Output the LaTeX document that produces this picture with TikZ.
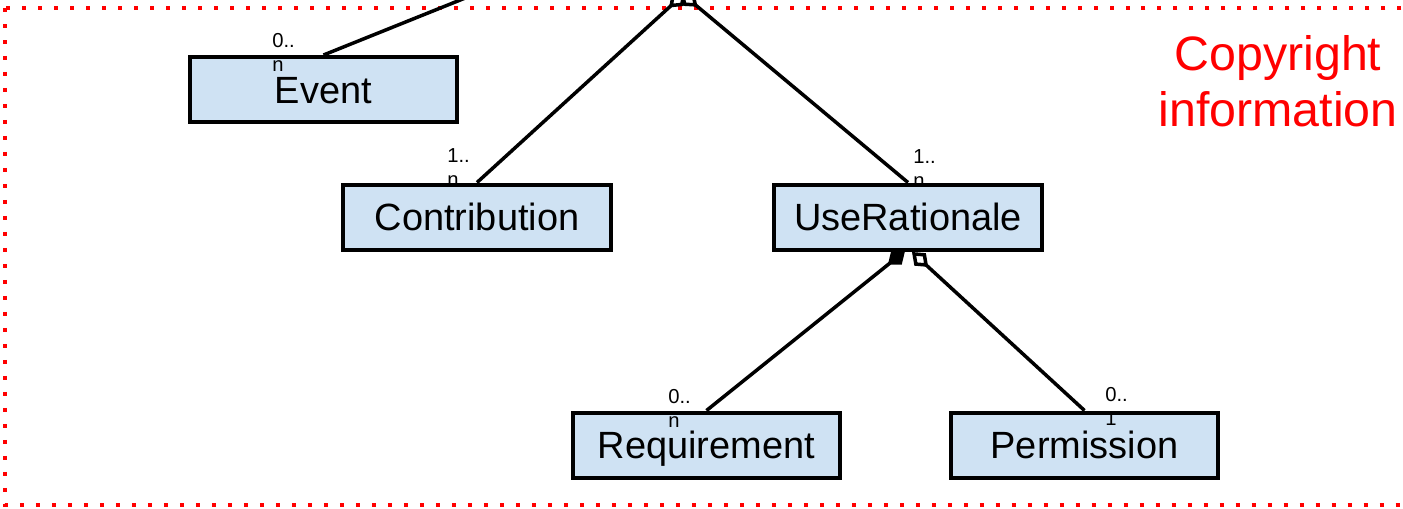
\documentclass[tikz,border=0pt]{standalone}
\usepackage{fontspec}
\setmainfont{Liberation Sans}
\usepackage{xcolor}
\usetikzlibrary{arrows.meta}
\definecolor{classblue}{HTML}{CFE2F3}

\begin{document}
\begin{tikzpicture}[x=0.02cm, y=-0.02cm,
  class/.style={draw, line width=0.08cm, fill=classblue, minimum width=5.36cm, minimum height=1.3cm, inner sep=0pt, font=\fontsize{21.6}{26}\selectfont, text height=15.5pt, text depth=0pt},
  mult/.style={anchor=north west, inner sep=0pt, align=left, font=\fontsize{11.5}{13.9}\selectfont},
  link/.style={line width=0.07cm},
  frame/.style={draw=red, line width=0.08cm, dash pattern=on 0.08cm off 0.24cm}]
  \useasboundingbox (0,0) rectangle (1403,508);
  \clip (0,0) rectangle (1403,508);
  \draw[frame] (5,8) rectangle (1430,505);  % Copyright frame
  \node[class] (Event) at (323.5,89.5) {Event};  % Classes
  \node[class] (Contribution) at (477,217) {Contribution};
  \node[class] (Use-Rationale) at (908,217) {UseRationale};
  \node[class] (Requirement) at (706.5,445) {Requirement};
  \node[class] (Permission) at (1084.5,445) {Permission};
  \coordinate (Top-Event) at (510,-20);  % Parents above the picture
  \coordinate (Top-Left) at (686,-8);
  \coordinate (Top-Right) at (680,-8);
  \coordinate (UR-Left) at (905,251);
  \coordinate (UR-Right) at (912,252);
  \draw[link] (Event.north) -- (Top-Event);  % Connect classes
  \draw[link, -{Diamond[open, length=0.46cm, width=0.34cm]}] (Contribution.north) -- (Top-Left);
  \draw[link, -{Diamond[open, length=0.46cm, width=0.34cm]}] (Use-Rationale.north) -- (Top-Right);
  \draw[link, -{Diamond[length=0.44cm, width=0.34cm]}] (Requirement.north) -- (UR-Left);
  \draw[link, -{Diamond[open, length=0.44cm, width=0.34cm]}] (Permission.north) -- (UR-Right);
  \node[mult] (Mult-Event) at (272,33) {0..\\n};  % Multiplicities
  \node[mult] (Mult-Contribution) at (447,148) {1..\\n};
  \node[mult] (Mult-Use-Rationale) at (913,149) {1..\\n};
  \node[mult] (Mult-Requirement) at (668,389) {0..\\n};
  \node[mult] (Mult-Permission) at (1105,387) {0..\\1};
  \node[text=red, align=center, inner sep=0pt, font=\fontsize{27.5}{31.8}\selectfont] (Copyright) at (1278,81.5) {Copyright\\information};
\end{tikzpicture}
\end{document}
